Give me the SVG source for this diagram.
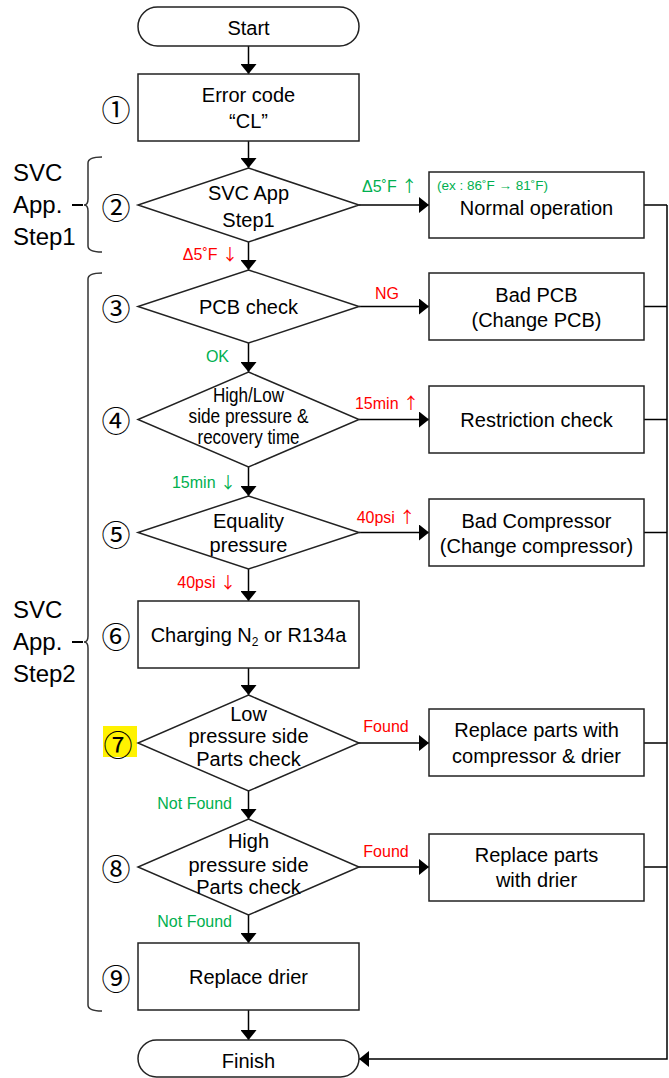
<svg xmlns="http://www.w3.org/2000/svg" width="669" height="1078" viewBox="0 0 669 1078">
<defs>
<marker id="ah" markerUnits="userSpaceOnUse" markerWidth="11" markerHeight="16" refX="10" refY="8" orient="auto">
<path d="M0,0 L10,8 L0,16 z" fill="#000"/>
</marker>
<style>
.shape{fill:#fff;stroke:#222;stroke-width:1.5}
.conn{fill:none;stroke:#000;stroke-width:1.5}
.arr{fill:none;stroke:#000;stroke-width:1.5;marker-end:url(#ah)}
.t{font-family:"Liberation Sans",Arial,sans-serif;font-size:20px;fill:#000;text-anchor:middle}
.big{font-family:"Liberation Sans",Arial,sans-serif;font-size:24px;fill:#000}
.num{font-family:"Noto Sans CJK JP","DejaVu Sans",sans-serif;font-size:29px;fill:#000;text-anchor:middle;dominant-baseline:central}
.g{font-family:"Liberation Sans",Arial,sans-serif;font-size:16px;fill:#00B050}
.r{font-family:"Liberation Sans",Arial,sans-serif;font-size:16px;fill:#FF0000}
.ar{font-family:"Noto Sans CJK JP",sans-serif;font-size:16px}
.brace{fill:none;stroke:#333;stroke-width:1.5}
.dash{fill:none;stroke:#000;stroke-width:2}
</style>
</defs>
<rect width="669" height="1078" fill="#fff"/>

<g id="connectors">
<path class="arr" d="M248.5,46 V74"/>
<path class="arr" d="M248.5,141 V168"/>
<path class="arr" d="M248.5,242 V270"/>
<path class="arr" d="M248.5,343 V372"/>
<path class="arr" d="M248.5,467 V496"/>
<path class="arr" d="M248.5,569 V601"/>
<path class="arr" d="M248.5,668 V695"/>
<path class="arr" d="M248.5,791 V819"/>
<path class="arr" d="M248.5,915 V943"/>
<path class="arr" d="M248.5,1010 V1040"/>
<path class="arr" d="M359,205 H429"/>
<path class="arr" d="M359,306.5 H429"/>
<path class="arr" d="M359,419.5 H429"/>
<path class="arr" d="M359,532.5 H429"/>
<path class="arr" d="M359,743 H429"/>
<path class="arr" d="M359,867 H429"/>
<path class="conn" d="M644,205 H667 M644,306.5 H667 M644,419.5 H667 M644,532.5 H667 M644,743 H667 M644,867 H667"/>
<path class="arr" d="M667,205 V1059 H359"/>
<text class="g" x="362" y="192">Δ5˚F <tspan class="ar">↑</tspan></text>
<text class="r" x="238" y="260" text-anchor="end">Δ5˚F <tspan class="ar">↓</tspan></text>
<text class="r" x="387" y="299" text-anchor="middle">NG</text>
<text class="g" x="229" y="362" text-anchor="end">OK</text>
<text class="r" x="387" y="409" text-anchor="middle">15min <tspan class="ar">↑</tspan></text>
<text class="g" x="236" y="488" text-anchor="end">15min <tspan class="ar">↓</tspan></text>
<text class="r" x="386" y="523" text-anchor="middle">40psi <tspan class="ar">↑</tspan></text>
<text class="r" x="236" y="588" text-anchor="end">40psi <tspan class="ar">↓</tspan></text>
<text class="r" x="386" y="732" text-anchor="middle">Found</text>
<text class="g" x="232" y="809" text-anchor="end">Not Found</text>
<text class="r" x="386" y="857" text-anchor="middle">Found</text>
<text class="g" x="232" y="927" text-anchor="end">Not Found</text>
</g>

<g id="start">
<rect class="shape" x="138" y="7" width="221" height="39" rx="19.5"/>
<text class="t" x="248.5" y="34.5">Start</text>
</g>

<g id="n1">
<rect class="shape" x="138" y="74" width="221" height="67"/>
<text class="t" x="248.5" y="102">Error code</text>
<text class="t" x="248.5" y="128">“CL”</text>
<text class="num" x="116" y="108">①</text>
</g>

<g id="n2">
<polygon class="shape" points="248.5,168 359,205 248.5,242 138,205"/>
<text class="t" x="248.5" y="200">SVC App</text>
<text class="t" x="248.5" y="227">Step1</text>
<text class="num" x="116" y="206">②</text>
</g>

<g id="normal">
<rect class="shape" x="429" y="172" width="215" height="66"/>
<text class="g" x="437" y="190" style="font-size:13.5px">(ex : 86˚F → 81˚F)</text>
<text class="t" x="536.5" y="215">Normal operation</text>
</g>

<g id="n3">
<polygon class="shape" points="248.5,270 359,306.5 248.5,343 138,306.5"/>
<text class="t" x="248.5" y="314">PCB check</text>
<text class="num" x="116" y="307">③</text>
</g>

<g id="badpcb">
<rect class="shape" x="429" y="273" width="215" height="67"/>
<text class="t" x="536.5" y="302">Bad PCB</text>
<text class="t" x="536.5" y="327">(Change PCB)</text>
</g>

<g id="n4">
<polygon class="shape" points="248.5,372 359,419.5 248.5,467 138,419.5"/>
<text class="t" x="248.5" y="402" textLength="71" lengthAdjust="spacingAndGlyphs">High/Low</text>
<text class="t" x="248.5" y="423" textLength="120" lengthAdjust="spacingAndGlyphs">side pressure &amp;</text>
<text class="t" x="248.5" y="444" textLength="102" lengthAdjust="spacingAndGlyphs">recovery time</text>
<text class="num" x="116" y="419">④</text>
</g>

<g id="restriction">
<rect class="shape" x="429" y="386" width="215" height="67"/>
<text class="t" x="536.5" y="427">Restriction check</text>
</g>

<g id="n5">
<polygon class="shape" points="248.5,496 359,532.5 248.5,569 138,532.5"/>
<text class="t" x="248.5" y="528">Equality</text>
<text class="t" x="248.5" y="552">pressure</text>
<text class="num" x="116" y="533">⑤</text>
</g>

<g id="badcomp">
<rect class="shape" x="429" y="499" width="215" height="67"/>
<text class="t" x="536.5" y="528">Bad Compressor</text>
<text class="t" x="536.5" y="553">(Change compressor)</text>
</g>

<g id="n6">
<rect class="shape" x="138" y="601" width="221" height="67"/>
<text class="t" x="248.5" y="642">Charging N<tspan style="font-size:12px" dy="4">2</tspan><tspan dy="-4"> or R134a</tspan></text>
<text class="num" x="116" y="635">⑥</text>
</g>

<g id="n7">
<rect x="103" y="726" width="34" height="31" fill="#FFF200"/>
<polygon class="shape" points="248.5,695 359,743 248.5,791 138,743"/>
<text class="t" x="248.5" y="721">Low</text>
<text class="t" x="248.5" y="743">pressure side</text>
<text class="t" x="248.5" y="766">Parts check</text>
<text class="num" x="118" y="743">⑦</text>
</g>

<g id="repcomp">
<rect class="shape" x="429" y="709" width="215" height="67"/>
<text class="t" x="536.5" y="737">Replace parts with</text>
<text class="t" x="536.5" y="763">compressor &amp; drier</text>
</g>

<g id="n8">
<polygon class="shape" points="248.5,819 359,867 248.5,915 138,867"/>
<text class="t" x="248.5" y="848">High</text>
<text class="t" x="248.5" y="872">pressure side</text>
<text class="t" x="248.5" y="894">Parts check</text>
<text class="num" x="116" y="867">⑧</text>
</g>

<g id="repdrier">
<rect class="shape" x="429" y="834" width="215" height="67"/>
<text class="t" x="536.5" y="862">Replace parts</text>
<text class="t" x="536.5" y="887">with drier</text>
</g>

<g id="n9">
<rect class="shape" x="138" y="943" width="221" height="67"/>
<text class="t" x="248.5" y="984">Replace drier</text>
<text class="num" x="116" y="977">⑨</text>
</g>

<g id="finish">
<rect class="shape" x="138" y="1040" width="221" height="37" rx="18.5"/>
<text class="t" x="248.5" y="1068">Finish</text>
</g>

<g id="step1">
<path class="brace" d="M102,157 Q88,157 88,163 L88,199 Q88,205 84,205 Q88,205 88,211 L88,246 Q88,252 102,252"/>
<path class="dash" d="M72,205 H83"/>
<text class="big" x="13" y="181">SVC</text>
<text class="big" x="13" y="213">App.</text>
<text class="big" x="13" y="245">Step1</text>
</g>

<g id="step2">
<path class="brace" d="M102,273 Q88,273 88,279 L88,636 Q88,642 84,642 Q88,642 88,648 L88,1005 Q88,1011 102,1011"/>
<path class="dash" d="M72,642 H83"/>
<text class="big" x="13" y="618">SVC</text>
<text class="big" x="13" y="650">App.</text>
<text class="big" x="13" y="682">Step2</text>
</g>
</svg>
